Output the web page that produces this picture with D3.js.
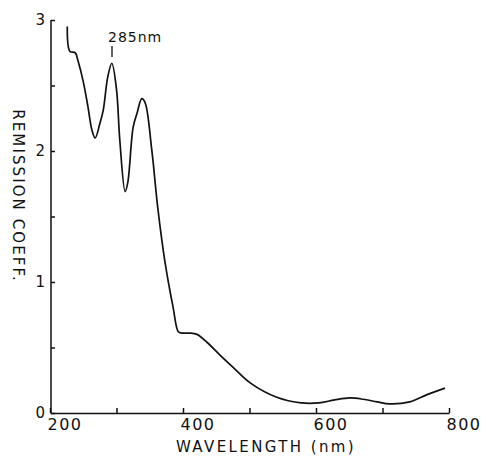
<!DOCTYPE html>
<html>
<head>
<meta charset="utf-8">
<script src="https://cdn.jsdelivr.net/npm/d3@7"></script>
<style>
  body { margin: 0; background: #fff; }
  svg text { font-family: "DejaVu Sans", sans-serif; fill: #111; }
  .axis path, .axis line { stroke: #111; stroke-width: 1.5; }
</style>
</head>
<body>
<svg id="chart" width="487" height="457"></svg>
<script>
// values (wavelength nm -> remission coeff.)
const wavelength = [226, 230, 238, 242, 250, 257, 263, 268, 275, 280, 287, 293, 300, 305, 313, 317,
  325, 331, 338, 343, 353, 362, 373, 385, 393, 398, 410, 421, 436, 456, 475, 501, 541, 578,
  604, 628, 651, 671, 692, 711, 741, 767, 794];
const remission = [2.95, 2.76, 2.75, 2.69, 2.53, 2.34, 2.16, 2.10, 2.21, 2.31, 2.57, 2.67, 2.47, 2.08, 1.69, 1.76,
  2.18, 2.29, 2.40, 2.37, 2.01, 1.57, 1.15, 0.81, 0.62, 0.61, 0.61, 0.60, 0.54, 0.44, 0.35, 0.23, 0.12, 0.077,
  0.077, 0.10, 0.115, 0.105, 0.085, 0.07, 0.085, 0.14, 0.19];

const xTicks = [200, 300, 400, 500, 600, 700, 800];
const yTicks = [0, 0.5, 1, 1.5, 2, 2.5, 3];
const peakLabel = "285nm";

const svg = d3.select("#chart");
const x = d3.scaleLinear().domain([200, 800]).range([50, 449]);
const y = d3.scaleLinear().domain([0, 3]).range([413, 20]);

// x axis, ticks pointing up into the plot
const xAxis = svg.append("g")
    .attr("class", "axis")
    .attr("transform", `translate(0,${y(0)})`)
    .call(d3.axisBottom(x).tickValues(xTicks).tickSizeInner(-5).tickSizeOuter(0)
      .tickFormat(d => d % 200 === 0 ? d : ""));
xAxis.selectAll("text")
    .attr("text-anchor", "start")
    .attr("dx", "-3")
    .attr("dy", 0)
    .attr("y", 17)
    .style("font-size", "16px")
    .style("letter-spacing", "1.5px");

// y axis
const yAxis = svg.append("g")
    .attr("class", "axis")
    .attr("transform", `translate(${x(200) + 1},0)`)
    .call(d3.axisLeft(y).tickValues(yTicks).tickSizeInner(-4).tickSizeOuter(0).tickPadding(6)
      .tickFormat(d => Number.isInteger(d) ? d : ""));
yAxis.selectAll("text").style("font-size", "15px");
yAxis.select(".domain").remove();
yAxis.append("line")
    .attr("x1", 0).attr("x2", 0)
    .attr("y1", y(3)).attr("y2", y(0))
    .attr("stroke", "#111").attr("stroke-width", 1.5);

// spectrum
const line = d3.line()
    .x((d, i) => x(wavelength[i]))
    .y(d => y(d))
    .curve(d3.curveCatmullRom.alpha(0.5));

svg.append("path")
    .datum(remission)
    .attr("d", line)
    .attr("fill", "none")
    .attr("stroke", "#111")
    .attr("stroke-width", 1.7);

// peak annotation
svg.append("text")
    .attr("x", 108).attr("y", 42)
    .style("font-size", "14px")
    .style("letter-spacing", "1px")
    .text(peakLabel);
svg.append("line")
    .attr("x1", 112).attr("x2", 112)
    .attr("y1", 46).attr("y2", 57)
    .attr("stroke", "#111").attr("stroke-width", 1.3);

// axis titles
svg.append("text")
    .attr("x", 266).attr("y", 452)
    .attr("text-anchor", "middle")
    .style("font-size", "15px")
    .style("letter-spacing", "2.4px")
    .text("WAVELENGTH (nm)");

svg.append("text")
    .attr("transform", "translate(13,196) rotate(90)")
    .attr("text-anchor", "middle")
    .style("font-size", "15px")
    .style("letter-spacing", "2.1px")
    .text("REMISSION COEFF.");
</script>
</body>
</html>
